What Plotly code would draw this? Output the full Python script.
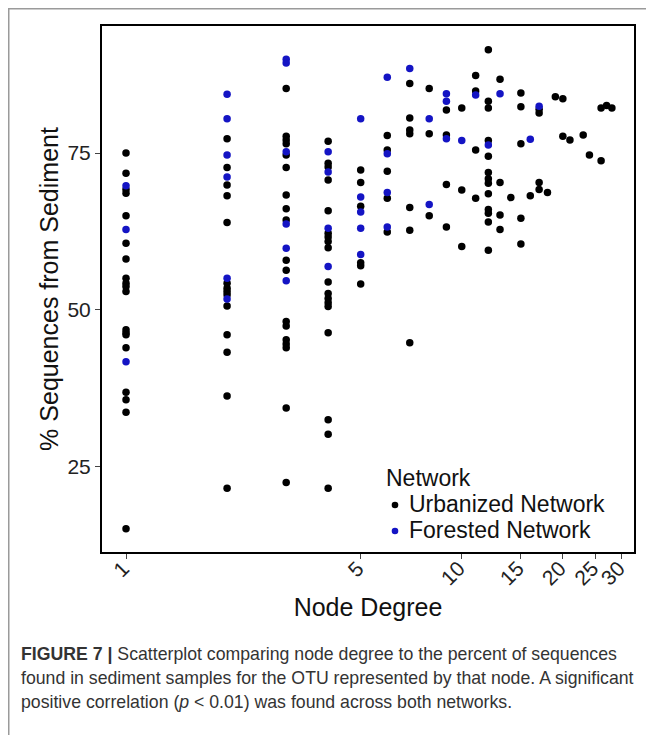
import plotly.graph_objects as go

# ---- data ----
urban_degrees = [1, 2, 3, 4, 5, 6, 7, 8, 9, 10, 11, 12, 13, 14, 15, 16, 17, 18, 19, 20, 21, 23, 24, 26, 27, 28]
urban_values = [
    [75.0, 71.8, 69.2, 68.6, 65.0, 60.6, 58.1, 55.0, 54.2, 53.7, 52.9, 46.8, 46.3, 46.0, 43.9, 36.8, 35.6, 33.6, 15.0],
    [77.3, 72.7, 69.9, 68.2, 63.9, 54.2, 53.4, 52.9, 52.4, 50.6, 46.0, 43.2, 36.2, 21.5],
    [85.3, 77.7, 77.1, 76.5, 74.7, 72.7, 68.3, 66.1, 64.3, 57.9, 56.3, 48.1, 47.4, 45.2, 44.5, 43.9, 34.3, 22.4],
    [76.9, 73.4, 72.8, 70.7, 65.8, 62.2, 61.6, 60.9, 59.9, 54.4, 52.6, 51.8, 51.1, 50.5, 46.3, 32.4, 30.1, 21.5],
    [72.3, 70.3, 66.5, 57.5, 57.0, 54.1],
    [77.8, 75.5, 72.1, 67.8, 62.4],
    [86.1, 80.6, 78.7, 78.1, 66.3, 62.7, 44.7],
    [85.3, 78.1, 65.0],
    [81.9, 77.9, 70.0, 63.2],
    [82.2, 69.1, 60.1],
    [87.4, 84.9, 75.5, 67.8],
    [91.5, 83.3, 82.2, 77.0, 74.5, 71.9, 70.9, 70.2, 68.5, 66.0, 65.4, 64.0, 59.5],
    [86.8, 70.3, 65.1, 62.8],
    [67.9],
    [84.6, 82.4, 76.5, 64.6, 60.5],
    [68.2],
    [82.0, 81.4, 70.3, 69.2],
    [68.7],
    [84.0],
    [83.7, 77.7],
    [77.1],
    [77.9],
    [74.7],
    [82.2, 73.8],
    [82.6],
    [82.2],
]

forest_degrees = [1, 2, 3, 4, 5, 6, 7, 8, 9, 10, 11, 12, 13, 16, 17]
forest_values = [
    [69.8, 62.8, 41.7],
    [84.4, 80.5, 74.7, 71.2, 55.0, 51.7],
    [90.0, 89.4, 75.2, 63.7, 59.8, 54.6],
    [75.2, 72.0, 63.0, 56.9],
    [80.5, 68.0, 65.6, 63.0, 58.8],
    [87.1, 74.9, 68.7, 63.2],
    [88.5],
    [80.5, 66.8],
    [84.5, 83.3, 77.3],
    [77.0],
    [84.3],
    [76.3],
    [84.5],
    [77.2],
    [82.5],
]

x_tick_values = [1, 5, 10, 15, 20, 25, 30]
y_tick_values = [25, 50, 75]
series_names = ["Urbanized Network", "Forested Network"]
legend_title = "Network"

# ---- build ----
ux = [d for d, vals in zip(urban_degrees, urban_values) for _ in vals]
uy = [v for vals in urban_values for v in vals]
fx = [d for d, vals in zip(forest_degrees, forest_values) for _ in vals]
fy = [v for vals in forest_values for v in vals]

BLACK = "#000000"
BLUE = "#1414C4"
OFF = 8                      # page body margin
W, H = 654 - OFF, 735 - OFF
L, T = 102 - OFF, 26 - OFF   # plot box left/top in figure px
R = W - (634 - OFF)
B = H - (552 - OFF)
PW, PH = W - L - R, H - T - B


def px(page_x):
    return (page_x - OFF - L) / PW


def py(page_y):
    return (H - B - (page_y - OFF)) / PH


fig = go.Figure()
fig.add_trace(go.Scatter(x=ux, y=uy, mode="markers", name=series_names[0],
                         marker=dict(color=BLACK, size=7.5), showlegend=False))
fig.add_trace(go.Scatter(x=fx, y=fy, mode="markers", name=series_names[1],
                         marker=dict(color=BLUE, size=7.5), showlegend=False))

font_family = "Liberation Sans, Arial, sans-serif"

fig.update_layout(
    width=W, height=H,
    margin=dict(l=L, r=R, t=T, b=B, pad=0),
    paper_bgcolor="white", plot_bgcolor="white",
    font=dict(family=font_family, color="#111"),
    showlegend=False,
)
fig.update_xaxes(
    type="log", range=[-0.0715, 1.513],
    tickvals=x_tick_values, ticktext=[str(v) for v in x_tick_values],
    tickangle=-45, tickfont=dict(size=21, color="#222"),
    ticklabelstandoff=-11, ticklabelshift=-3,
    ticks="outside", ticklen=5, tickwidth=1.2, tickcolor="#444",
    showgrid=False, zeroline=False,
    showline=True, linecolor="black", linewidth=2, mirror=True,
    title=dict(text="Node Degree", font=dict(size=25, color="#111"), standoff=10),
)
fig.update_yaxes(
    range=[11.3, 95.3],
    tickvals=y_tick_values, ticktext=[str(v) for v in y_tick_values],
    tickfont=dict(size=21, color="#222"),
    ticks="outside", ticklen=5, tickwidth=1.2, tickcolor="#444",
    showgrid=False, zeroline=False,
    showline=True, linecolor="black", linewidth=2, mirror=True,
    title=dict(text="% Sequences from Sediment", font=dict(size=25, color="#111"), standoff=2),
)

# manual legend (inside plot, bottom right)
ann = []
ann.append(dict(x=px(384), y=py(478), xref="paper", yref="paper", text=legend_title,
                showarrow=False, xanchor="left", yanchor="middle",
                font=dict(size=23, color="#111", family=font_family)))
for i, (nm, col) in enumerate(zip(series_names, [BLACK, BLUE])):
    yc = 504 + 26 * i
    ann.append(dict(x=px(407), y=py(yc), xref="paper", yref="paper", text=nm,
                    showarrow=False, xanchor="left", yanchor="middle",
                    font=dict(size=23, color="#111", family=font_family)))
    fig.add_shape(type="circle", xref="paper", yref="paper",
                  x0=px(395 - 3.3), x1=px(395 + 3.3), y0=py(yc + 3.3 + 1), y1=py(yc - 3.3 + 1),
                  fillcolor=col, line=dict(width=0))

# caption
cap_lines = [
    "<b>FIGURE 7 |</b> Scatterplot comparing node degree to the percent of sequences",
    "found in sediment samples for the OTU represented by that node. A significant",
    "positive correlation (<i>p</i> &lt; 0.01) was found across both networks.",
]
for i, line in enumerate(cap_lines):
    ann.append(dict(x=px(19), y=py(654 + 24 * i), xref="paper", yref="paper", text=line,
                    showarrow=False, xanchor="left", yanchor="middle",
                    font=dict(size=17.7, color="#333", family=font_family)))
fig.update_layout(annotations=ann)

# outer figure frame
fig.add_shape(type="rect", xref="paper", yref="paper",
              x0=px(OFF + 0.75), x1=px(648), y0=py(760), y1=py(OFF + 0.75),
              line=dict(color="#9a9a9a", width=1.5), fillcolor="rgba(0,0,0,0)", layer="below")

fig.write_html("out.html")
